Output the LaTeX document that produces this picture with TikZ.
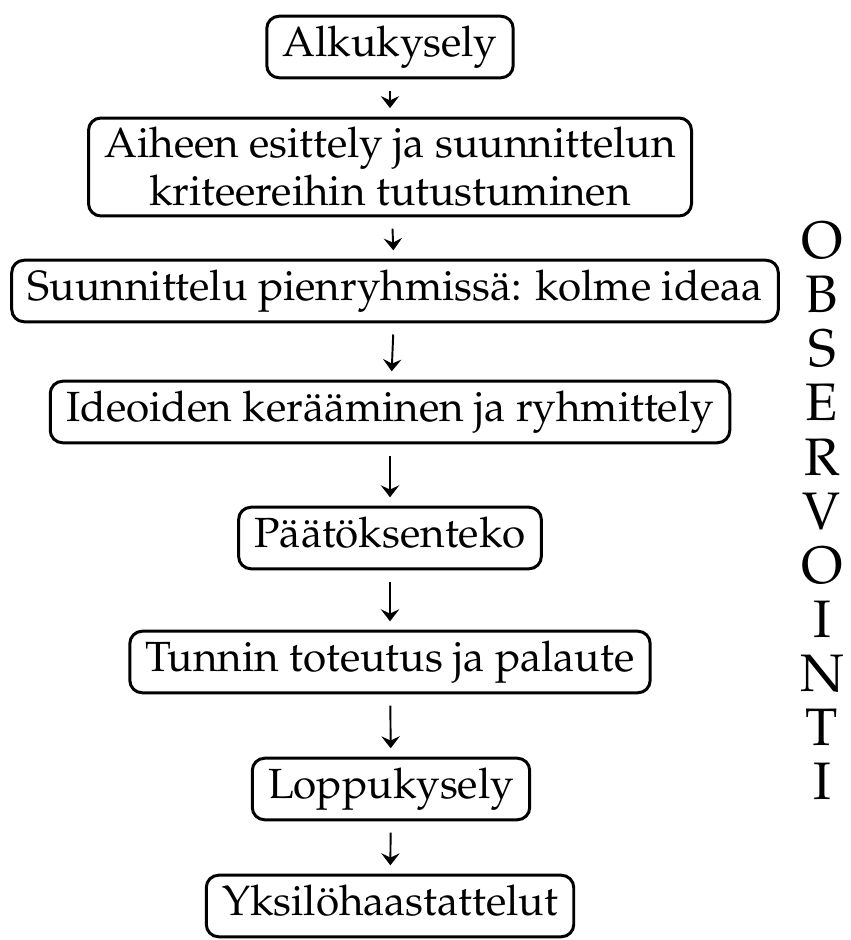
\documentclass[tikz,border=0pt]{standalone}
\usepackage[T1]{fontenc}
\usepackage{mathpazo}
\usetikzlibrary{arrows.meta}
\definecolor{boxcol}{RGB}{0,0,0}
\definecolor{arrcol}{RGB}{0,0,0}

\begin{document}
\begin{tikzpicture}[
  x=0.01cm, y=-0.01cm,
  vaihe/.style={
    draw=boxcol, line width=0.85pt, rounded corners=3.5pt,
    align=center, font=\fontsize{12}{13.7}\selectfont,
    inner xsep=4.5pt, inner ysep=2.6pt
  },
  yksi/.style={vaihe, text height=8.9pt, text depth=3.4pt},
  nuoli/.style={draw=arrcol, line width=0.55pt,
    -{Stealth[length=3.4pt,width=5.2pt,inset=1.2pt]},
    shorten <=3.2pt, shorten >=2.4pt},
  sivu/.style={align=center, inner sep=0pt, font=\fontsize{15}{15.4}\selectfont}
]
\useasboundingbox (0,0) rectangle (850,940);

%% ===================== Phases =====================
\node[yksi]  (alku)  at (390, 47)  {Alkukysely};
\node[vaihe] (aihe)  at (390,167)  {Aiheen esittely ja suunnittelun\\kriteereihin tutustuminen};
\node[yksi]  (suun)  at (395,291)  {Suunnittelu pienryhmissä: kolme ideaa};
\node[yksi]  (ideo)  at (390,412)  {Ideoiden kerääminen ja ryhmittely};
\node[yksi]  (paat)  at (390,538)  {Päätöksenteko};
\node[yksi]  (tunti) at (390,662)  {Tunnin toteutus ja palaute};
\node[yksi]  (loppu) at (391,789)  {Loppukysely};
\node[yksi]  (haast) at (390,906)  {Yksilöhaastattelut};

%% ===================== Side label =====================
\node[sivu] (obs) at (822,511) {O\\B\\S\\E\\R\\V\\O\\I\\N\\T\\I};

%% ===================== Flow =====================
\draw[nuoli] (alku)  -- (aihe);
\draw[nuoli] (aihe)  -- (suun);
\draw[nuoli] (suun)  -- (ideo);
\draw[nuoli] (ideo)  -- (paat);
\draw[nuoli] (paat)  -- (tunti);
\draw[nuoli] (tunti) -- (loppu);
\draw[nuoli] (loppu) -- (haast);

\end{tikzpicture}
\end{document}
